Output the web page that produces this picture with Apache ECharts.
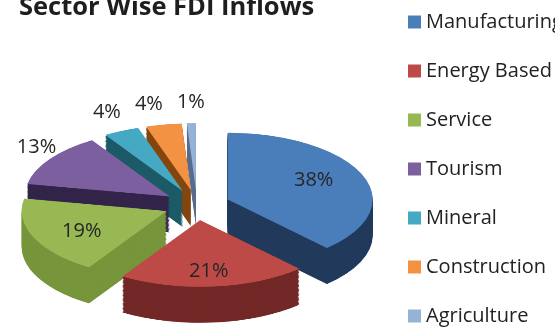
<!DOCTYPE html>
<html><head><meta charset="utf-8">
<script src="https://cdn.jsdelivr.net/npm/echarts@6/dist/echarts.min.js"></script>
<style>
html,body{margin:0;padding:0;width:555px;height:329px;overflow:hidden;background:#fff;}
#wrap{position:relative;width:555px;height:329px;overflow:hidden;}
#pie{position:absolute;left:0;top:0;width:555px;height:740px;transform:scaleY(0.46);transform-origin:0 0;}
#over{position:absolute;left:0;top:0;width:555px;height:329px;}
</style></head><body>
<div id="wrap"><div id="pie"></div><div id="over"></div></div>
<script>
// ---- data ----
const titleText = 'Sector Wise FDI Inflows';
const categories = ['Manufacturing', 'Energy Based', 'Service', 'Tourism', 'Mineral', 'Construction', 'Agriculture'];
const shares = [38, 21, 19, 13, 4, 4, 1];
const topColors = ['#4a7ebb', '#bd4a47', '#97b853', '#7c5f9f', '#45a9c3', '#f39243', '#95b3d7'];
const sideColors = ['#213a5c', '#712826', '#77953a', '#33244a', '#1d5a68', '#84460f', '#5a6e8f'];

// ---- layout ----
const S = 0.46;        // vertical tilt
const CX = 197, CY = 205, R = 145, OFF = 33;
const DEPTH = 36;      // screen px
const LAYERS = 28;
const LS = 0.53;       // label tilt mapping
const LABEL_SPACING = 42;

function pieSeries(cyChart, colors, z) {
  return {
    type: 'pie', silent: true, animation: false, z: z,
    center: [CX, cyChart], radius: [0, R], startAngle: 90, clockwise: true,
    selectedMode: 'multiple', selectedOffset: OFF,
    label: { show: false }, labelLine: { show: false },
    emphasis: { disabled: true },
    itemStyle: { borderWidth: 0 },
    select: { itemStyle: { borderWidth: 0 } },
    data: categories.map((n, i) => ({ name: n, value: shares[i], selected: true, itemStyle: { color: colors[i] } }))
  };
}

const pieChart = echarts.init(document.getElementById('pie'), null, { renderer: 'canvas' });
const series = [pieSeries(CY / S, topColors, 10)];
const step = DEPTH / S / LAYERS;
for (let k = LAYERS; k >= 1; k--) series.push(pieSeries(CY / S + k * step, sideColors, 2));
pieChart.setOption({ animation: false, series: series });

// label anchors collected from the library's pie label layout
const anchors = [];
let shiftedX = null;

function labelLayout(p) {
  const r = p.labelRect;
  let ax = r.x + r.width / 2;
  let ay = r.y + r.height / 2;
  const pts = p.labelLinePoints;
  const outside = shares[p.dataIndex] < 15;
  if (outside && pts && pts.length > 1) { ax = pts[1][0]; ay = pts[1][1]; }
  anchors[p.dataIndex] = { x: ax, outside: outside };
  if (shiftedX && shiftedX[p.dataIndex] != null) ax = shiftedX[p.dataIndex];
  return { x: ax, y: CY + LS * (ay - CY), align: 'center', verticalAlign: 'middle' };
}

const over = echarts.init(document.getElementById('over'), null, { renderer: 'canvas' });
const overOption = {
  animation: false,
  title: {
    text: titleText, left: 14, top: -10,
    textStyle: { fontFamily: 'Open Sans', fontWeight: 'bold', fontSize: 25.5, color: '#1e1e1e' }
  },
  legend: {
    orient: 'vertical', left: 408, top: 12, padding: 0, itemWidth: 13, itemHeight: 13, itemGap: 29,
    icon: 'rect', selectedMode: false,
    textStyle: { fontFamily: 'Open Sans', fontSize: 20, color: '#222', lineHeight: 20 },
    data: categories.map((n, i) => ({ name: n, itemStyle: { color: topColors[i], opacity: 1, borderWidth: 0 } }))
  },
  series: [{
    type: 'pie', silent: true, center: [CX, CY], radius: [100, R], startAngle: 90, clockwise: true,
    avoidLabelOverlap: false,
    itemStyle: { color: 'rgba(0,0,0,0)', borderWidth: 0 },
    emphasis: { disabled: true },
    label: { show: true, position: 'outside', formatter: '{c}%', fontFamily: 'Open Sans', fontSize: 20, color: '#262626', distanceToLabelLine: 0 },
    labelLine: { show: false, length: 49, length2: 0 },
    labelLayout: labelLayout,
    data: categories.map((n, i) => ({
      name: n, value: shares[i],
      label: { position: shares[i] >= 15 ? 'inside' : 'outside' }
    }))
  }]
};
over.setOption(overOption);

// spread crowded outside labels leftwards (from the last slice backwards)
shiftedX = [];
let prev = null;
for (let i = anchors.length - 1; i >= 0; i--) {
  const a = anchors[i];
  if (!a || !a.outside) continue;
  let x = a.x;
  if (prev != null && x > prev - LABEL_SPACING) x = prev - LABEL_SPACING;
  shiftedX[i] = x;
  prev = x;
}
overOption.series[0].labelLayout = function (p) { return labelLayout(p); };
over.setOption(overOption);
</script>
</body></html>
